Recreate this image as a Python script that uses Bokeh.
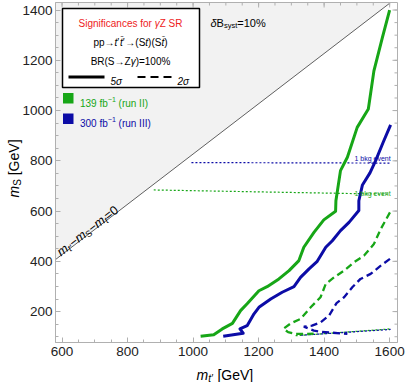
import math
from bokeh.plotting import figure
from bokeh.models import Range1d, Label, FixedTicker, LinearAxis
from bokeh.embed import file_html
from bokeh.resources import INLINE

# ---------------- data ----------------
# 139 fb^-1 (run II), 5 sigma
mt_139_5s = [1023, 1063, 1089, 1099, 1120, 1145, 1165, 1201, 1226, 1262, 1293, 1323, 1338,
             1369, 1399, 1435, 1436, 1450, 1471, 1501, 1535, 1552, 1578, 1600]
ms_139_5s = [102, 108, 131, 138, 153, 204, 231, 283, 299, 330, 363, 403, 456,
             515, 565, 599, 641, 761, 814, 933, 1006, 1158, 1291, 1400]
# 300 fb^-1 (run III), 5 sigma
mt_300_5s = [1092, 1153, 1143, 1165, 1186, 1201, 1237, 1272, 1308, 1328, 1354, 1379, 1405,
             1425, 1450, 1476, 1506, 1506, 1517, 1540, 1557, 1580, 1603]
ms_300_5s = [102, 114, 131, 144, 191, 217, 250, 277, 299, 336, 370, 400, 456,
             482, 522, 555, 602, 641, 704, 752, 800, 873, 943]
# 139 fb^-1, 2 sigma
mt_139_2s = [1601, 1573, 1552, 1522, 1491, 1461, 1430, 1405, 1389, 1359, 1328, 1298, 1276,
             1290, 1313, 1368]
ms_139_2s = [595, 529, 469, 423, 396, 363, 336, 310, 257, 217, 171, 153, 132,
             118, 111, 112]
# 300 fb^-1, 2 sigma
mt_300_2s = [1601, 1573, 1542, 1511, 1486, 1461, 1438, 1415, 1389, 1363, 1338, 1369, 1389, 1471]
ms_300_2s = [410, 383, 350, 330, 297, 257, 234, 184, 157, 144, 140, 124, 120, 111]
# lower thin contour along the bottom
low_139_mt = [1313, 1603]
low_139_ms = [104, 131]
low_300_mt = [1330, 1603]
low_300_ms = [106, 129]
# "1 bkg event" lines
bkg_139_mt = [880, 1600]
bkg_139_ms = [684, 667]
bkg_300_mt = [995, 1600]
bkg_300_ms = [793, 791]
# kinematic limit m_t' - m_S - m_t = 0
m_top = 173

x_ticks = [600, 800, 1000, 1200, 1400, 1600]
y_ticks = [200, 400, 600, 800, 1000, 1200, 1400]
x_minor = list(range(600, 1601, 50))
y_minor = list(range(100, 1401, 50))

# ---------------- layout ----------------
X0, X1, Y0, Y1 = 580, 1624, 77, 1430          # visible plot box
FIG_W, FIG_H = 407, 382
BL, BR, BT, BB = 55, 10, 2, 40                # box position inside the canvas
SX = (FIG_W - BL - BR) / (X1 - X0)
SY = (FIG_H - BT - BB) / (Y1 - Y0)

GREEN = "#17a617"
BLUE = "#0c0ca6"
RED = "#ee2222"
FRAME = "#b0b0b0"
FONT = "Liberation Sans"


def refX(px):
    return X0 + (px - BL) / SX


def refY(py):
    return Y0 + (FIG_H - BB - py) / SY


CW = {'m': 833, 't': 278, "'": 191, '′': 260, '−': 584, 'S': 667, '=': 584, '0': 556,
      '1': 556, '%': 889, 'B': 667, 's': 500, 'y': 500, 'δ': 556, ' ': 278, '[': 278,
      ']': 278, 'G': 778, 'e': 556, 'V': 667, 'p': 556, '→': 1000, '(': 333, ')': 333,
      '\u0304': 0, 'R': 722, 'Z': 611, 'γ': 500, 'i': 222, 'g': 556, 'n': 556, 'f': 278,
      'c': 500, 'a': 556, 'o': 556, 'r': 333, 'σ': 560, '5': 556, '2': 556}

p = figure(width=FIG_W, height=FIG_H, output_backend="svg", toolbar_location=None,
           x_range=Range1d(refX(0), refX(FIG_W)), y_range=Range1d(refY(FIG_H), refY(0)),
           x_axis_location=None, y_axis_location=None,
           min_border_left=0, min_border_right=0, min_border_top=0, min_border_bottom=0,
           background_fill_color="white", border_fill_color="white")
p.grid.visible = False
p.outline_line_color = None


def style_axis(ax, ticks, minor):
    ax.ticker = FixedTicker(ticks=ticks, minor_ticks=minor)
    ax.axis_line_color = FRAME
    ax.major_tick_line_color = FRAME
    ax.minor_tick_line_color = FRAME
    ax.major_tick_in = 5
    ax.major_tick_out = 0
    ax.minor_tick_in = 3
    ax.minor_tick_out = 0
    ax.major_label_text_font = FONT
    ax.major_label_text_color = "#222222"
    ax.major_label_text_font_size = "13.5px"


xax = LinearAxis(fixed_location=Y0, bounds=(X0, X1))
style_axis(xax, x_ticks, x_minor)
xax.major_label_standoff = 4
p.add_layout(xax, "below")
yax = LinearAxis(fixed_location=X0, bounds=(Y0, Y1))
style_axis(yax, y_ticks, y_minor)
yax.major_label_standoff = 3
p.add_layout(yax, "left")

# excluded region above the kinematic limit
xa = X0
xb = Y1 + m_top
p.patch([xa, xb, xa], [xa - m_top, Y1, Y1], fill_color="#f2f2f2", line_color=None)
p.line([xa, xb], [xa - m_top, Y1], line_color="#606060", line_width=1)

# plot box and ticks on the right and top edges (same tick arrays as the axes)
p.quad(left=X0, right=X1, bottom=Y0, top=Y1, fill_color=None, line_color=FRAME, line_width=1)
p.segment(x0=[X1] * len(y_ticks), x1=[X1 - 5 / SX] * len(y_ticks), y0=y_ticks, y1=y_ticks,
          line_color=FRAME, line_width=1)
p.segment(x0=[X1] * len(y_minor), x1=[X1 - 3 / SX] * len(y_minor), y0=y_minor, y1=y_minor,
          line_color=FRAME, line_width=1)
p.segment(y0=[Y1] * len(x_ticks), y1=[Y1 - 5 / SY] * len(x_ticks), x0=x_ticks, x1=x_ticks,
          line_color=FRAME, line_width=1)
p.segment(y0=[Y1] * len(x_minor), y1=[Y1 - 3 / SY] * len(x_minor), x0=x_minor, x1=x_minor,
          line_color=FRAME, line_width=1)

# curves
p.line(bkg_139_mt, bkg_139_ms, line_color=GREEN, line_width=1.2, line_dash="2 2")
p.line(bkg_300_mt, bkg_300_ms, line_color=BLUE, line_width=1.2, line_dash="2 2")
p.line(low_139_mt, low_139_ms, line_color=GREEN, line_width=1.3, line_dash="2 2")
p.line(low_300_mt, low_300_ms, line_color=BLUE, line_width=1.3, line_dash="2 2")
p.line(mt_139_2s, ms_139_2s, line_color=GREEN, line_width=2.3, line_dash="7 4")
p.line(mt_300_2s, ms_300_2s, line_color=BLUE, line_width=2.3, line_dash="7 4")
p.line(mt_139_5s, ms_139_5s, line_color=GREEN, line_width=3, line_join="round")
p.line(mt_300_5s, ms_300_5s, line_color=BLUE, line_width=3, line_join="round")


def tw(s, size):
    return sum(CW.get(c, 556) for c in s) * size / 1000


def run(x, y, parts, angle=0.0, align="left"):
    total = sum(tw(s, sz) for s, sz, it, sh, col in parts)
    d = -total / 2 if align == "center" else 0.0
    ca, sa = math.cos(angle), math.sin(angle)
    for s, sz, it, sh, col in parts:
        lead = len(s) - len(s.lstrip(" "))
        body = s.strip(" ")
        dd = d + tw(" " * lead, sz)
        ox = dd * ca + sh * sa
        oy = dd * sa - sh * ca
        if body:
            p.add_layout(Label(x=x + ox / SX, y=y + oy / SY,
                               text=body, text_font=FONT, text_font_size=f"{sz}px",
                               text_font_style="italic" if it else "normal",
                               text_color=col, text_align="left", text_baseline="alphabetic",
                               angle=angle))
        d += tw(s, sz)


# legend box
p.quad(left=refX(62), right=refX(199), bottom=refY(87), top=refY(8),
       fill_color="white", line_color="black", line_width=1.5)
K = "black"
run(refX(130), refY(23), [("Significances for ", 10, False, 0, RED), ("γ", 10, True, 0, RED),
                          ("Z SR", 10, False, 0, RED)], align="center")
run(refX(130), refY(41.5), [("pp→", 10, False, 0, K), ("t", 10, True, 0, K), ("′", 10, False, 0, K),
                            ("t\u0304", 10, True, 0, K), ("′", 10, False, 0, K),
                            ("→(S", 10, False, 0, K), ("t", 10, True, 0, K), (")(S", 10, False, 0, K),
                            ("t\u0304", 10, True, 0, K), (")", 10, False, 0, K)], align="center")
run(refX(130), refY(61), [("BR(S→Z", 10, False, 0, K), ("γ", 10, True, 0, K),
                          (")=100%", 10, False, 0, K)], align="center")
p.line([refX(68), refX(104)], [refY(76.5), refY(76.5)], line_color="black", line_width=3)
p.line([refX(137), refX(172)], [refY(76.5), refY(76.5)], line_color="black", line_width=2.2,
       line_dash="8 5")
run(refX(110), refY(80.5), [("5", 10, True, 0, K), ("σ", 10, True, 0, K)])
run(refX(177), refY(80.5), [("2", 10, True, 0, K), ("σ", 10, True, 0, K)])

p.quad(left=refX(62.5), right=refX(73), bottom=refY(103), top=refY(92.5),
       fill_color=GREEN, line_color=None)
p.quad(left=refX(62.5), right=refX(73), bottom=refY(123.5), top=refY(113),
       fill_color=BLUE, line_color=None)
run(refX(79.5), refY(102.5), [("139 fb", 10, False, 0, GREEN), ("−1", 7, False, -4, GREEN),
                              (" (run II)", 10, False, 0, GREEN)])
run(refX(79.5), refY(123), [("300 fb", 10, False, 0, BLUE), ("−1", 7, False, -4, BLUE),
                            (" (run III)", 10, False, 0, BLUE)])

# delta B_syst
run(refX(210), refY(22), [("δ", 11, True, 0, K), ("B", 11, False, 0, K),
                          ("syst", 7.5, False, 2.5, K), ("=10%", 11, False, 0, K)])

# 1 bkg event labels
run(refX(372.5), refY(157.5), [("1 bkg event", 7, False, 0, BLUE)], align="center")
run(refX(372.5), refY(192.5), [("1 bkg event", 7, False, 0, GREEN)], align="center")

# kinematic limit label along the diagonal
ang = math.atan2(SY, SX)
x_l = refX(58)
run(x_l, x_l - m_top + 16, [("m", 12.5, True, 0, K), ("t′", 9, True, 3, K), ("−", 12.5, False, 0, K),
                            ("m", 12.5, True, 0, K), ("S", 9, False, 3, K), ("−", 12.5, False, 0, K),
                            ("m", 12.5, True, 0, K), ("t", 9, True, 3, K), ("=0", 12.5, False, 0, K)],
    angle=ang)

# axis titles
run(refX(196), refY(374), [("m", 14, True, 0, K), ("t′", 10, True, 3.5, K),
                           (" [GeV]", 14, False, 0, K)])
run(refX(13), refY(197), [("m", 14, True, 0, K), ("S", 10, False, 3.5, K),
                          (" [GeV]", 14, False, 0, K)], angle=math.pi / 2)

open("out.html", "w").write(file_html(p, INLINE))
